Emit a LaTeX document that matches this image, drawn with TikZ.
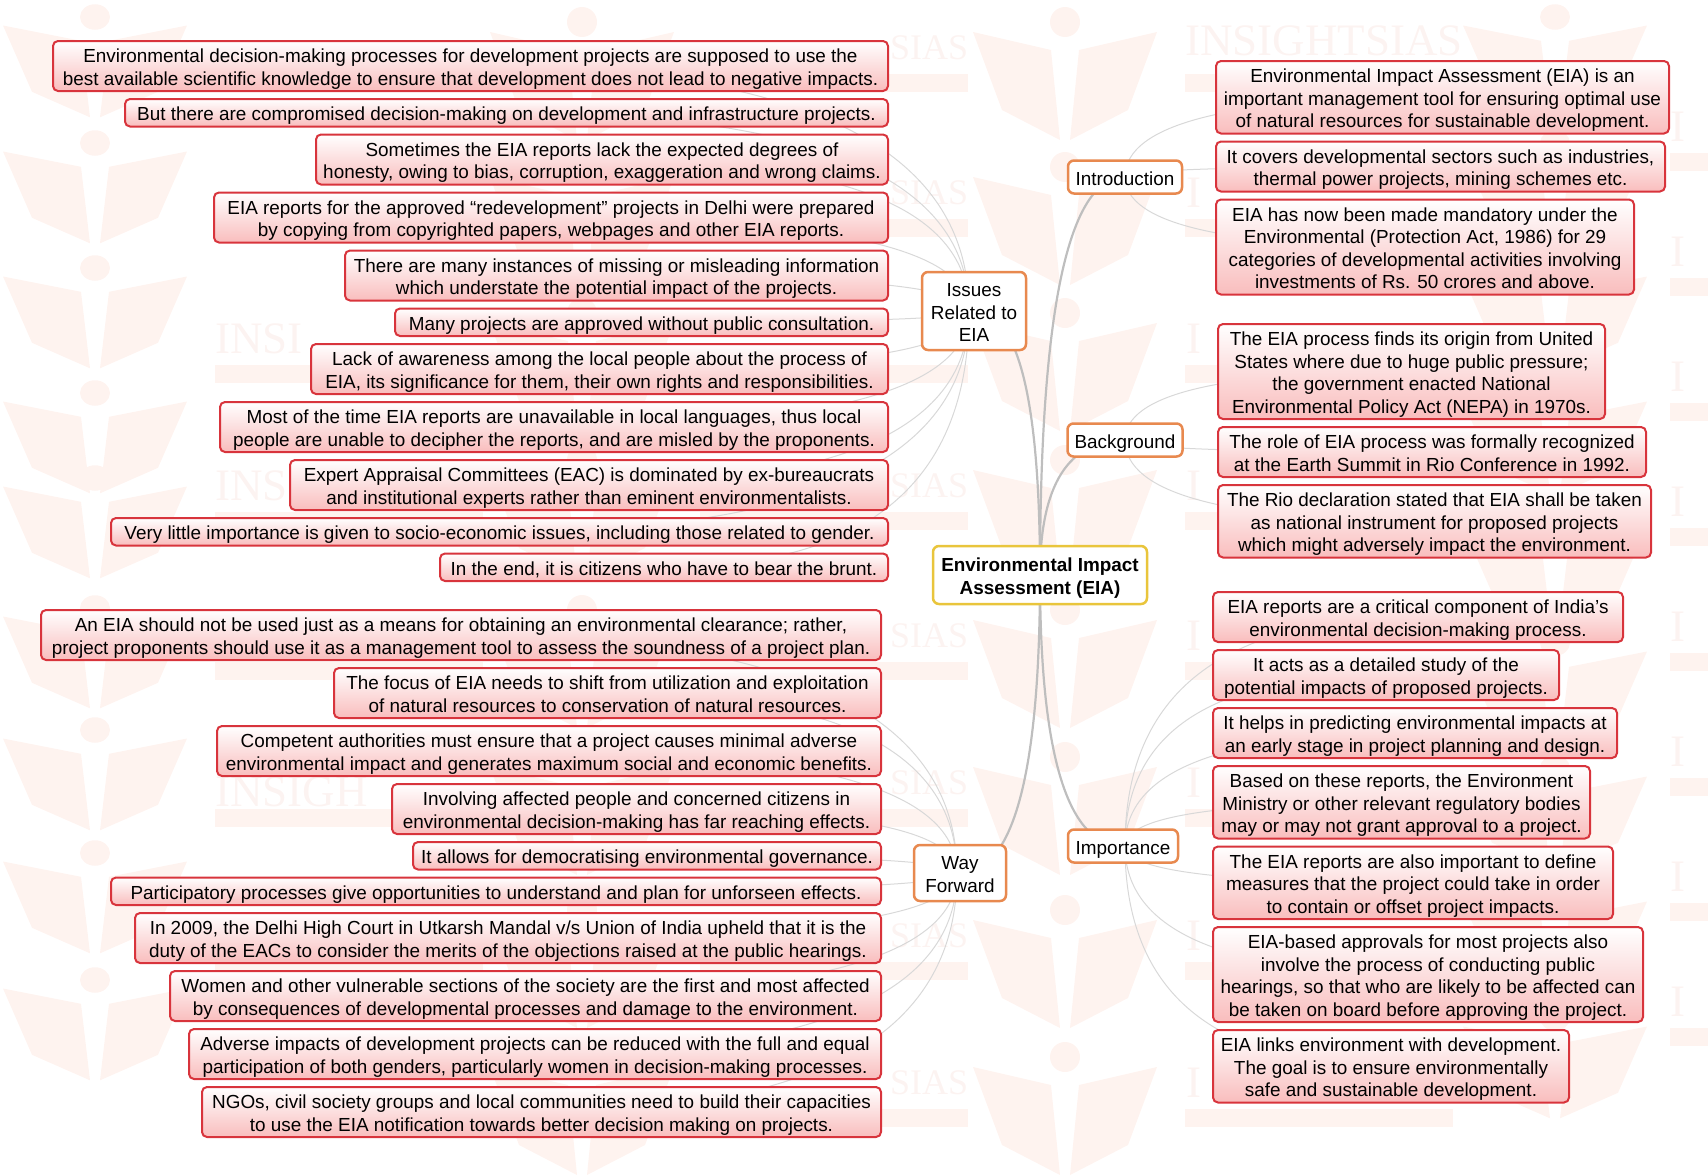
\documentclass[tikz,border=0pt]{standalone}
\usepackage{fontspec}
\setmainfont{Liberation Sans}
\newfontfamily\markfont{Liberation Serif}
\usepackage{xcolor}
\usetikzlibrary{positioning,backgrounds,calc}
\definecolor{leafred}{HTML}{D8343C}
\definecolor{leafpink}{HTML}{F9BDBD}
\definecolor{branchorange}{HTML}{E8894F}
\definecolor{rootgold}{HTML}{E9C53C}
\definecolor{limbgray}{HTML}{BEBEBE}
\definecolor{twiggray}{HTML}{D8D8D8}
\definecolor{markpink}{HTML}{FEF3EF}
\definecolor{markpale}{HTML}{FCF3F1}
\newcommand{\twig}[3][twig]{\draw[#1] (#2) .. controls ($(#2)!.667!(#2|-#3.center)$) and ($(#3.center)!.667!(#2|-#3.center)$) .. (#3.center);}
\tikzset{
  logomark/.pic={
    \fill[markpink] (0,0) circle (15);
    \fill[markpink] (-92,10)--(-14,28)--(-5,118)--(-63,88)--cycle;
    \fill[markpink] (92,10)--(14,28)--(5,118)--(63,88)--cycle;
  },
  markbar/.pic={\fill[markpink] (0,26) rectangle (268,44);},
  marktext/.style={text=markpale,font=\markfont\fontsize{45}{45}\selectfont,anchor=west,inner sep=0pt},
  evenlines/.style={execute at begin node={\rule{0pt}{\dimexpr 22.5pt*#1-1.5pt\relax}},execute at end node={\rule[-5pt]{0pt}{5pt}}}
}
\begin{document}
\begin{tikzpicture}[x=1pt,y=-1pt,
  every node/.style={font=\fontsize{18.9}{22.5}\selectfont,align=center,text=black},
  leaf/.style 2 args={evenlines=#1,draw=leafred,line width=2pt,rounded corners=5pt,top color=white,bottom color=leafpink,
    inner xsep=3pt,inner ysep=0pt,minimum height={#1*22.5pt+5pt},minimum width=#2pt},
  branch/.style={evenlines=#1,draw=branchorange,line width=2.5pt,rounded corners=6pt,fill=white,inner sep=0pt},
  rootbox/.style={evenlines=2,draw=rootgold,line width=2.5pt,rounded corners=6pt,fill=white,inner sep=0pt},
  twig/.style={twiggray,line width=1pt},
  limb/.style={limbgray,line width=2.2pt}]
  \useasboundingbox (0,0) rectangle (1708,1175);
  % centre and main topics
  \node[rootbox,minimum width=214pt,minimum height=58pt,font=\bfseries\fontsize{18.9}{22.5}\selectfont] (root) at (1040,575) {Environmental Impact\\Assessment (EIA)};
  \node[branch=1,minimum width=114pt,minimum height=33pt] (intro) at (1125,177) {Introduction};
  \node[branch=1,minimum width=115pt,minimum height=33pt] (backg) at (1125,440) {Background};
  \node[branch=1,minimum width=110pt,minimum height=33pt] (import) at (1123,846) {Importance};
  \node[branch=3,minimum width=104pt,minimum height=78pt] (issues) at (974,311) {Issues\\Related to\\EIA};
  \node[branch=2,minimum width=92pt,minimum height=56pt] (way) at (960,873) {Way\\Forward};
  % issues
  \node[leaf={2}{835},anchor=north east] (iss1) at (889,40) {Environmental decision-making processes for development projects are supposed to use the\\best available scientific knowledge to ensure that development does not lead to negative impacts.};
  \node[leaf={1}{763},below=6pt of iss1.south east,anchor=north east] (iss2) {But there are compromised decision-making on development and infrastructure projects.};
  \node[leaf={2}{572},below=6pt of iss2.south east,anchor=north east] (iss3) {Sometimes the EIA reports lack the expected degrees of\\honesty, owing to bias, corruption, exaggeration and wrong claims.};
  \node[leaf={2}{674},below=6pt of iss3.south east,anchor=north east] (iss4) {EIA reports for the approved “redevelopment” projects in Delhi were prepared\\by copying from copyrighted papers, webpages and other EIA reports.};
  \node[leaf={2}{543},below=6pt of iss4.south east,anchor=north east] (iss5) {There are many instances of missing or misleading information\\which understate the potential impact of the projects.};
  \node[leaf={1}{493},below=6pt of iss5.south east,anchor=north east] (iss6) {Many projects are approved without public consultation.};
  \node[leaf={2}{577},below=6pt of iss6.south east,anchor=north east] (iss7) {Lack of awareness among the local people about the process of\\EIA, its significance for them, their own rights and responsibilities.};
  \node[leaf={2}{668},below=6pt of iss7.south east,anchor=north east] (iss8) {Most of the time EIA reports are unavailable in local languages, thus local\\people are unable to decipher the reports, and are misled by the proponents.};
  \node[leaf={2}{598},below=6pt of iss8.south east,anchor=north east] (iss9) {Expert Appraisal Committees (EAC) is dominated by ex-bureaucrats\\and institutional experts rather than eminent environmentalists.};
  \node[leaf={1}{777},below=6pt of iss9.south east,anchor=north east] (iss10) {Very little importance is given to socio-economic issues, including those related to gender.};
  \node[leaf={1}{448},below=6pt of iss10.south east,anchor=north east] (iss11) {In the end, it is citizens who have to bear the brunt.};
  % way forward
  \node[leaf={2}{840},anchor=north east] (way1) at (882,609) {An EIA should not be used just as a means for obtaining an environmental clearance; rather,\\project proponents should use it as a management tool to assess the soundness of a project plan.};
  \node[leaf={2}{547},below=6pt of way1.south east,anchor=north east] (way2) {The focus of EIA needs to shift from utilization and exploitation\\of natural resources to conservation of natural resources.};
  \node[leaf={2}{664},below=6pt of way2.south east,anchor=north east] (way3) {Competent authorities must ensure that a project causes minimal adverse\\environmental impact and generates maximum social and economic benefits.};
  \node[leaf={2}{489},below=6pt of way3.south east,anchor=north east] (way4) {Involving affected people and concerned citizens in\\environmental decision-making has far reaching effects.};
  \node[leaf={1}{468},below=6pt of way4.south east,anchor=north east] (way5) {It allows for democratising environmental governance.};
  \node[leaf={1}{770},below=6pt of way5.south east,anchor=north east] (way6) {Participatory processes give opportunities to understand and plan for unforseen effects.};
  \node[leaf={2}{746},below=6pt of way6.south east,anchor=north east] (way7) {In 2009, the Delhi High Court in Utkarsh Mandal v/s Union of India upheld that it is the\\duty of the EACs to consider the merits of the objections raised at the public hearings.};
  \node[leaf={2}{711},below=6pt of way7.south east,anchor=north east] (way8) {Women and other vulnerable sections of the society are the first and most affected\\by consequences of developmental processes and damage to the environment.};
  \node[leaf={2}{692},below=6pt of way8.south east,anchor=north east] (way9) {Adverse impacts of development projects can be reduced with the full and equal\\participation of both genders, particularly women in decision-making processes.};
  \node[leaf={2}{679},below=6pt of way9.south east,anchor=north east] (way10) {NGOs, civil society groups and local communities need to build their capacities\\to use the EIA notification towards better decision making on projects.};
  % introduction
  \node[leaf={3}{453},anchor=north west] (int1) at (1215,60) {Environmental Impact Assessment (EIA) is an\\important management tool for ensuring optimal use\\of natural resources for sustainable development.};
  \node[leaf={2}{449},below=6pt of int1.south west,anchor=north west] (int2) {It covers developmental sectors such as industries,\\thermal power projects, mining schemes etc.};
  \node[leaf={4}{418},below=6pt of int2.south west,anchor=north west] (int3) {EIA has now been made mandatory under the\\Environmental (Protection Act, 1986) for 29\\categories of developmental activities involving\\investments of Rs. 50 crores and above.};
  % background
  \node[leaf={4}{387},anchor=north west] (bg1) at (1217,323) {The EIA process finds its origin from United\\States where due to huge public pressure;\\the government enacted National\\Environmental Policy Act (NEPA) in 1970s.};
  \node[leaf={2}{428},below=6pt of bg1.south west,anchor=north west] (bg2) {The role of EIA process was formally recognized\\at the Earth Summit in Rio Conference in 1992.};
  \node[leaf={3}{433},below=6pt of bg2.south west,anchor=north west] (bg3) {The Rio declaration stated that EIA shall be taken\\as national instrument for proposed projects\\which might adversely impact the environment.};
  % importance
  \node[leaf={2}{410},anchor=north west] (imp1) at (1212,591) {EIA reports are a critical component of India’s\\environmental decision-making process.};
  \node[leaf={2}{346},below=6pt of imp1.south west,anchor=north west] (imp2) {It acts as a detailed study of the\\potential impacts of proposed projects.};
  \node[leaf={2}{404},below=6pt of imp2.south west,anchor=north west] (imp3) {It helps in predicting environmental impacts at\\an early stage in project planning and design.};
  \node[leaf={3}{377},below=6pt of imp3.south west,anchor=north west] (imp4) {Based on these reports, the Environment\\Ministry or other relevant regulatory bodies\\may or may not grant approval to a project.};
  \node[leaf={3}{400},below=6pt of imp4.south west,anchor=north west] (imp5) {The EIA reports are also important to define\\measures that the project could take in order\\to contain or offset project impacts.};
  \node[leaf={4}{430},below=6pt of imp5.south west,anchor=north west] (imp6) {EIA-based approvals for most projects also\\involve the process of conducting public\\hearings, so that who are likely to be affected can\\be taken on board before approving the project.};
  \node[leaf={3}{356},below=6pt of imp6.south west,anchor=north west] (imp7) {EIA links environment with development.\\The goal is to ensure environmentally\\safe and sustainable development.};
  \coordinate (isshub) at ([xshift=-5pt]issues.center);
  \coordinate (wayhub) at ([xshift=-3pt]way.center);
  \coordinate (imphub) at ([xshift=2pt]import.center);
  \begin{scope}[on background layer]
    \clip (0,0) rectangle (1708,1175);
    % watermark
    \foreach \y in {17,143,268,393,478,608,730,853,980}
      \pic[yscale=.85] at (95,\y) {logomark};
    \foreach \y in {17,143,268,393,518,643,768,893,1018}
      \pic[yscale=.85] at (1555,\y) {logomark};
    \foreach \y in {22,167,313,460,610,757,910,1057} {
      \pic at (582,\y) {logomark};
      \pic at (1065,\y) {logomark};
      \pic at (215,\y+26) {markbar};
      \pic at (700,\y+26) {markbar};
      \pic at (1185,\y+26) {markbar};
    }
    \foreach \y in {127,252,377,502,627,752,877,1002}
      \pic at (1670,\y) {markbar};
    \node[marktext] (mark1) at (1185,41) {INSIGHTSIAS};
    \node[marktext] (mark2) at (215,339) {INSI};
    \node[marktext] (mark3) at (215,486) {INS};
    \node[marktext] (mark4) at (215,792) {INSIGH};
    \foreach \y in {48,193,486,636,783,936,1083}
      \node[marktext,font=\markfont\fontsize{36}{36}\selectfont] (sias\y) at (890,\y) {SIAS};
    \foreach \y in {193,339,486,636,783,936,1083}
      \node[marktext] (insa\y) at (1186,\y) {I};
    \foreach \y in {127,252,377,502,627,752,877,1002}
      \node[marktext] (insb\y) at (1670,\y) {I};
    % connectors
    \foreach \n in {issues,way,intro,backg,import}
      {\twig[limb]{root.center}{\n}}
    \foreach \n in {iss1,iss2,iss3,iss4,iss5,iss6,iss7,iss8,iss9,iss10,iss11}
      {\twig{isshub}{\n}}
    \foreach \n in {way1,way2,way3,way4,way5,way6,way7,way8,way9,way10}
      {\twig{wayhub}{\n}}
    \foreach \n in {int1,int2,int3}
      {\twig{intro.center}{\n}}
    \foreach \n in {bg1,bg2,bg3}
      {\twig{backg.center}{\n}}
    \foreach \n in {imp1,imp2,imp3,imp4,imp5,imp6,imp7}
      {\twig{imphub}{\n}}
  \end{scope}
\end{tikzpicture}
\end{document}
